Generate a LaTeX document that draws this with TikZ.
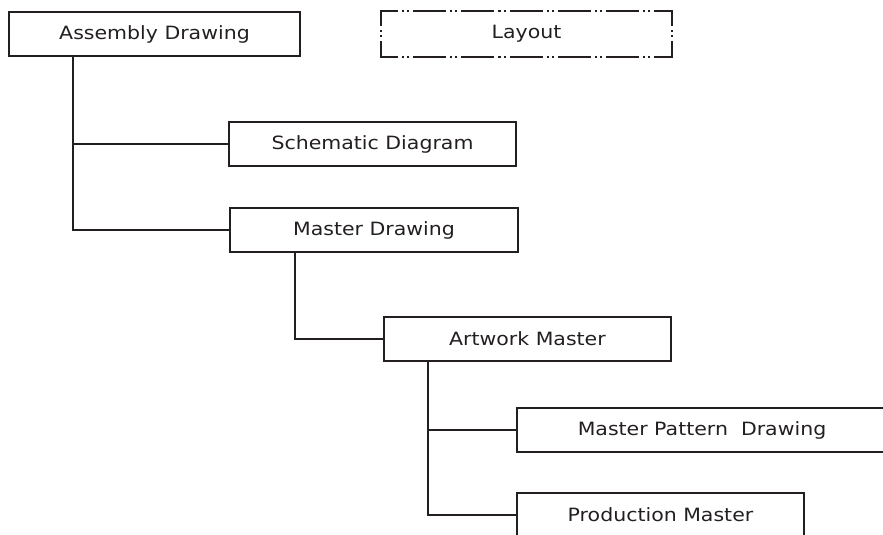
\documentclass[tikz,border=0pt]{standalone}
\usepackage{fontspec}
\setmainfont{DejaVu Sans}[FakeStretch=1.12]
\usetikzlibrary{calc}
\definecolor{ink}{HTML}{231F20}
\tikzset {box/.style={draw=ink,line width=2pt,rectangle,inner sep=0pt,minimum height=44pt,text=ink,font=\fontsize{18.3}{20}\selectfont},
  conn/.style={draw=ink,line width=2pt},
  dashdot/.style={draw=ink,line width=2pt,line cap=rect,dash pattern=on 31pt off 6pt on 0.1pt off 5pt on 0.1pt off 6pt}}

\begin{document}
\begin{tikzpicture}[x=1pt,y=-1pt]
\useasboundingbox (0,0) rectangle (883,535);
\clip (0,0) rectangle (883,535);
\node[box,minimum width=291pt] (asm) at (154.5,34) {Assembly Drawing};
\node[box,draw=none,minimum width=289pt] (layout) at (526.5,34) {Layout};
\draw[dashdot,dash phase=15pt] (layout.north west) -- (layout.north east);
\draw[dashdot,dash phase=15pt] (layout.south west) -- (layout.south east);
\draw[dashdot,dash phase=17pt] (layout.north west) -- (layout.south west);
\draw[dashdot,dash phase=17pt] (layout.north east) -- (layout.south east);
\node[box,minimum width=287pt] (schem) at (372.5,144) {Schematic Diagram};
\node[box,minimum width=288pt] (mdraw) at (374,230) {Master Drawing};
\node[box,minimum width=287pt] (artwork) at (527.5,339) {Artwork Master};
\node[box,minimum width=370pt] (mpattern) at (702,430) {Master Pattern\ \ Drawing};
\node[box,minimum width=287pt] (prodm) at (660.5,515) {Production Master};
\draw[conn] ([xshift=65pt]asm.south west) |- (schem.west);
\draw[conn] ([xshift=65pt]asm.south west) |- (mdraw.west);
\draw[conn] ([xshift=66pt]mdraw.south west) |- (artwork.west);
\draw[conn] ([xshift=45pt]artwork.south west) |- (mpattern.west);
\draw[conn] ([xshift=45pt]artwork.south west) |- (prodm.west);
\end{tikzpicture}
\end{document}
